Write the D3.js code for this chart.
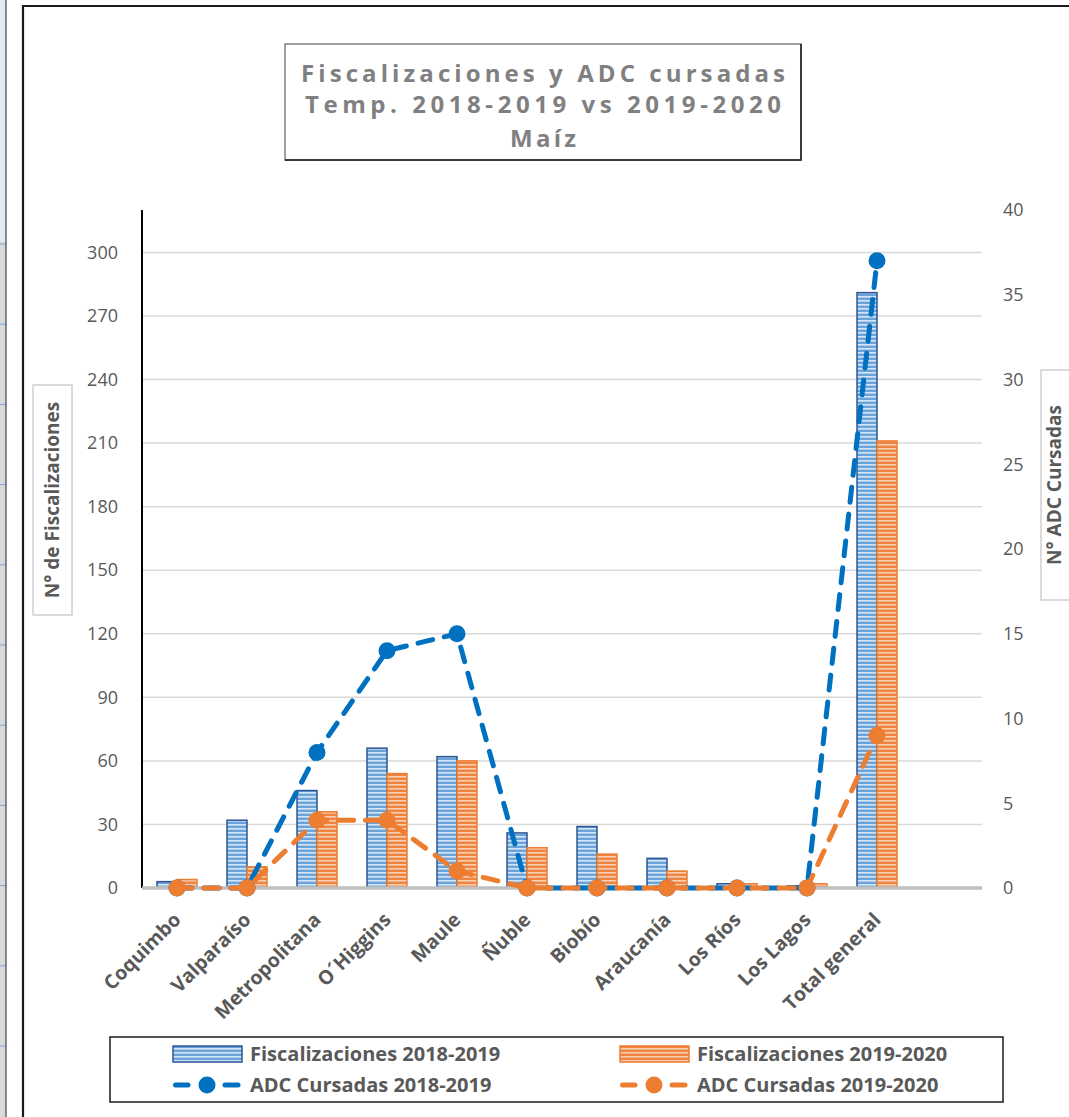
<!DOCTYPE html>
<html>
<head>
<meta charset="utf-8">
<script src="https://cdn.jsdelivr.net/npm/d3@7"></script>
<style>
	html, body
	{
		margin: 0;
		padding: 0;
		background: #ffffff;
	}
	svg text
	{
		font-family: "Open Sans", "Noto Sans", sans-serif;
	}
</style>
</head>
<body>
<svg id="chart" width="1069" height="1117"></svg>
<script>
'use strict';

var arrayCategories = ['Coquimbo','Valparaíso','Metropolitana','O´Higgins','Maule','Ñuble','Biobío','Araucanía','Los Ríos','Los Lagos','Total general'];
var arrayFisc1819 = [3,32,46,66,62,26,29,14,2,1,281];
var arrayFisc1920 = [4,10,36,54,60,19,16,8,2,2,211];
var arrayAdc1819 = [0,0,8,14,15,0,0,0,0,0,37];
var arrayAdc1920 = [0,0,4,4,1,0,0,0,0,0,9];
var arrayLeftTicks = [0,30,60,90,120,150,180,210,240,270,300];
var arrayRightTicks = [0,5,10,15,20,25,30,35,40];
var arrayTitle = ['Fiscalizaciones y ADC cursadas','Temp. 2018-2019 vs 2019-2020','Maíz'];

var strBlue = '#0070c0';
var strOrange = '#ed7d31';
var strText = '#595959';

var svg = d3.select('#chart');

// patterns for the striped bars
var defs = svg.append('defs');
function AddStripes(strId,strBase,strStripe)
{
	var pattern = defs.append('pattern')
		.attr('id',strId)
		.attr('patternUnits','userSpaceOnUse')
		.attr('width',4)
		.attr('height',4);
	pattern.append('rect').attr('width',4).attr('height',4).attr('fill',strBase);
	pattern.append('rect').attr('y',0).attr('width',4).attr('height',1.6).attr('fill',strStripe);
}
AddStripes('stripeBlue','#6aa3da','#d4e5f6');
AddStripes('stripeOrange','#ee8440','#f9cfb2');

// bits of the spreadsheet behind the chart
svg.append('rect').attr('x',0).attr('y',0).attr('width',6).attr('height',242).attr('fill','#ddebf7');
svg.append('rect').attr('x',0).attr('y',242).attr('width',6).attr('height',875).attr('fill','#d9d9d9');
for (var nRow = 0; nRow < 11; nRow++)
{
	svg.append('line')
		.attr('x1',0).attr('x2',6)
		.attr('y1',244 + nRow * 80.2).attr('y2',244 + nRow * 80.2)
		.attr('stroke','#7fa7d4').attr('stroke-width',1);
}
svg.append('line').attr('x1',6).attr('x2',6).attr('y1',0).attr('y2',1117).attr('stroke','#444').attr('stroke-width',1.2);

// chart frame
svg.append('path')
	.attr('d','M23,1117 L23,6 L1069,6')
	.attr('fill','none')
	.attr('stroke','#1a1a1a')
	.attr('stroke-width',2.2);

// title
svg.append('rect')
	.attr('x',285).attr('y',44).attr('width',516).attr('height',116)
	.attr('fill','#ffffff').attr('stroke','#808080').attr('stroke-width',1.5);
svg.append('path')
	.attr('d','M285,160 L801,160 L801,44')
	.attr('fill','none').attr('stroke','#1a1a1a').attr('stroke-width',1.5);

var arrayTitleY = [82,113,147];
var arrayTitleLen = [484,476,66];
arrayTitle.forEach(function(strLine,i)
{
	svg.append('text')
		.attr('x',543)
		.attr('y',arrayTitleY[i])
		.attr('text-anchor','middle')
		.attr('textLength',arrayTitleLen[i])
		.attr('lengthAdjust','spacing')
		.attr('font-size',24)
		.attr('font-weight','bold')
		.attr('fill','#808080')
		.text(strLine);
});

// scales
var nLeft = 142;
var nBase = 888;
var nTop = 210;
var nGridRight = 982;

var x = d3.scaleBand()
	.domain(arrayCategories)
	.range([nLeft, nLeft + arrayCategories.length * 70])
	.padding(0);
var xSeries = d3.scaleBand()
	.domain(['a','b'])
	.range([-20, 20]);
var yLeft = d3.scaleLinear().domain([0,320]).range([nBase,nTop]);
var yRight = d3.scaleLinear().domain([0,40]).range([nBase,nTop]);

function Center(strCat)
{
	return x(strCat) + x.bandwidth() / 2;
}

// gridlines
svg.append('g')
	.selectAll('line')
	.data(arrayLeftTicks.filter(function(n) { return n > 0; }))
	.enter()
	.append('line')
		.attr('x1',nLeft).attr('x2',nGridRight)
		.attr('y1',function(n) { return yLeft(n); })
		.attr('y2',function(n) { return yLeft(n); })
		.attr('stroke','#d9d9d9')
		.attr('stroke-width',1.5);

// left axis
var axisLeft = d3.axisLeft(yLeft).tickValues(arrayLeftTicks).tickSize(0).tickPadding(24);
var gLeft = svg.append('g').attr('transform','translate(' + nLeft + ',0)').call(axisLeft);
gLeft.select('.domain').remove();
gLeft.selectAll('text')
	.attr('font-family','"Open Sans", sans-serif')
	.attr('font-size',18)
	.attr('fill',strText);
svg.append('line')
	.attr('x1',nLeft).attr('x2',nLeft)
	.attr('y1',nTop).attr('y2',nBase)
	.attr('stroke','#000000').attr('stroke-width',2);

// right axis
var axisRight = d3.axisRight(yRight).tickValues(arrayRightTicks).tickSize(0).tickPadding(21);
var gRight = svg.append('g').attr('transform','translate(' + nGridRight + ',0)').call(axisRight);
gRight.select('.domain').remove();
gRight.selectAll('text')
	.attr('font-family','"Open Sans", sans-serif')
	.attr('font-size',18)
	.attr('fill',strText);

// bars
var arrayBars = [];
arrayCategories.forEach(function(strCat,i)
{
	arrayBars.push({cat: strCat, key: 'a', value: arrayFisc1819[i]});
	arrayBars.push({cat: strCat, key: 'b', value: arrayFisc1920[i]});
});

svg.append('g')
	.selectAll('rect')
	.data(arrayBars.filter(function(d) { return d.value > 0; }))
	.enter()
	.append('rect')
		.attr('x',function(d) { return Center(d.cat) + xSeries(d.key); })
		.attr('y',function(d) { return yLeft(d.value); })
		.attr('width',xSeries.bandwidth())
		.attr('height',function(d) { return nBase - yLeft(d.value); })
		.attr('fill',function(d) { return d.key == 'a' ? 'url(#stripeBlue)' : 'url(#stripeOrange)'; })
		.attr('stroke',function(d) { return d.key == 'a' ? '#2f5597' : strOrange; })
		.attr('stroke-width',1.5);

// base line
svg.append('line')
	.attr('x1',nLeft).attr('x2',nGridRight)
	.attr('y1',nBase).attr('y2',nBase)
	.attr('stroke','#bfbfbf').attr('stroke-width',3.5);

// ADC lines
function DrawSeries(arrayValues,strColor)
{
	var line = d3.line()
		.x(function(d,i) { return Center(arrayCategories[i]); })
		.y(function(d) { return yRight(d); });
	var g = svg.append('g');
	g.append('path')
		.datum(arrayValues)
		.attr('d',line)
		.attr('fill','none')
		.attr('stroke',strColor)
		.attr('stroke-width',5)
		.attr('stroke-dasharray','15,12')
		.attr('stroke-linecap','round');
	g.selectAll('circle')
		.data(arrayValues)
		.enter()
		.append('circle')
			.attr('cx',function(d,i) { return Center(arrayCategories[i]); })
			.attr('cy',function(d) { return yRight(d); })
			.attr('r',8.5)
			.attr('fill',strColor);
}
DrawSeries(arrayAdc1819,strBlue);
DrawSeries(arrayAdc1920,strOrange);

// category labels
svg.append('g')
	.selectAll('text')
	.data(arrayCategories)
	.enter()
	.append('text')
		.attr('transform',function(d) { return 'translate(' + (Center(d) + 5) + ',921) rotate(-45)'; })
		.attr('text-anchor','end')
		.attr('font-size',19.5)
		.attr('font-weight','bold')
		.attr('fill',strText)
		.text(function(d) { return d; });

// axis titles
function AxisTitle(nX,nY,nBoxLeft,nBoxWidth,strLabel)
{
	svg.append('rect')
		.attr('x',nBoxLeft).attr('y',nY - 115)
		.attr('width',nBoxWidth).attr('height',230)
		.attr('fill','#ffffff').attr('stroke','#d0d0d0').attr('stroke-width',1.5);
	svg.append('text')
		.attr('transform','translate(' + nX + ',' + nY + ') rotate(-90)')
		.attr('text-anchor','middle')
		.attr('dy','0.36em')
		.attr('font-size',19)
		.attr('font-weight','bold')
		.attr('fill',strText)
		.text(strLabel);
}
AxisTitle(52,500,33,39,'N° de Fiscalizaciones');
AxisTitle(1054,485,1041,40,'N° ADC Cursadas');

// legend
svg.append('rect')
	.attr('x',110).attr('y',1037).attr('width',893).attr('height',65)
	.attr('fill','#ffffff').attr('stroke','#1a1a1a').attr('stroke-width',1.5);

var arrayLegend = [
	{label: 'Fiscalizaciones 2018-2019', type: 'bar', fill: 'url(#stripeBlue)', stroke: '#2f5597', x: 173, y: 1054},
	{label: 'Fiscalizaciones 2019-2020', type: 'bar', fill: 'url(#stripeOrange)', stroke: strOrange, x: 620, y: 1054},
	{label: 'ADC Cursadas 2018-2019', type: 'line', stroke: strBlue, x: 173, y: 1085},
	{label: 'ADC Cursadas 2019-2020', type: 'line', stroke: strOrange, x: 620, y: 1085}
];

arrayLegend.forEach(function(item)
{
	if (item.type == 'bar')
	{
		svg.append('rect')
			.attr('x',item.x).attr('y',item.y - 8)
			.attr('width',69).attr('height',16)
			.attr('fill',item.fill).attr('stroke',item.stroke).attr('stroke-width',1.5);
	}
	else
	{
		[[2.5,15],[52,65]].forEach(function(arraySeg)
		{
			svg.append('line')
				.attr('x1',item.x + arraySeg[0]).attr('x2',item.x + arraySeg[1])
				.attr('y1',item.y).attr('y2',item.y)
				.attr('stroke',item.stroke).attr('stroke-width',5)
				.attr('stroke-linecap','round');
		});
		svg.append('circle')
			.attr('cx',item.x + 34).attr('cy',item.y).attr('r',8.5)
			.attr('fill',item.stroke);
	}
	svg.append('text')
		.attr('x',item.x + 77)
		.attr('y',item.y)
		.attr('dy','0.36em')
		.attr('font-size',20)
		.attr('font-weight','bold')
		.attr('fill',strText)
		.text(item.label);
});
</script>
</body>
</html>
